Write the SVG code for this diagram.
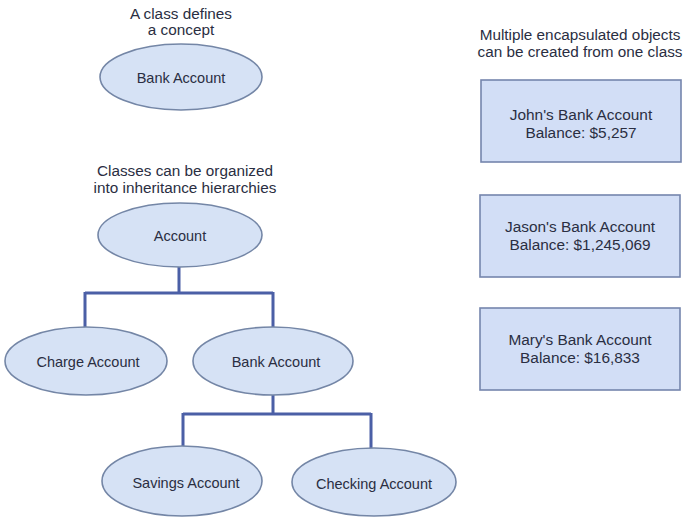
<svg xmlns="http://www.w3.org/2000/svg" width="692" height="526" viewBox="0 0 692 526">
<defs>
<style>
text{font-family:"Liberation Sans",Arial,sans-serif;font-size:14.5px;fill:#2a2e42;text-anchor:middle}
.cap{font-size:15.3px}
.bx{font-size:15.4px}
.ell{fill:#d6e2f5;stroke:#7486a6;stroke-width:1.6}
.box{fill:#d2def6;stroke:#7585ad;stroke-width:1.6}
.conn{fill:none;stroke:#4b5fa6;stroke-width:3}
</style>
</defs>
<rect width="692" height="526" fill="#ffffff"/>
<g id="captions">
<text class="cap" x="181" y="19">A class defines</text>
<text class="cap" x="181" y="35">a concept</text>
<text class="cap" x="185" y="176">Classes can be organized</text>
<text class="cap" x="185" y="193">into inheritance hierarchies</text>
<text class="cap" x="580" y="40">Multiple encapsulated objects</text>
<text class="cap" x="580" y="57">can be created from one class</text>
</g>
<g id="connectors">
<path class="conn" d="M179 267 V293 M85 293 H273 M85 292 V331 M273 292 V329"/>
<path class="conn" d="M273 394 V414 M183 414 H371 M183 413 V449 M371 413 V450"/>
</g>
<g id="node-bank-account-class">
<ellipse class="ell" cx="181" cy="77" rx="81" ry="33"/>
<text x="181" y="83">Bank Account</text>
</g>
<g id="node-account">
<ellipse class="ell" cx="180" cy="235" rx="82" ry="32"/>
<text x="180" y="241">Account</text>
</g>
<g id="node-charge-account">
<ellipse class="ell" cx="86" cy="361" rx="81" ry="34"/>
<text x="88" y="367">Charge Account</text>
</g>
<g id="node-bank-account">
<ellipse class="ell" cx="273" cy="361" rx="80" ry="34"/>
<text x="276" y="367">Bank Account</text>
</g>
<g id="node-savings-account">
<ellipse class="ell" cx="182" cy="481" rx="80" ry="35"/>
<text x="186" y="488">Savings Account</text>
</g>
<g id="node-checking-account">
<ellipse class="ell" cx="374" cy="482" rx="82" ry="34"/>
<text x="374" y="489">Checking Account</text>
</g>
<g id="node-john">
<rect class="box" x="481" y="80" width="200" height="82"/>
<text class="bx" x="581" y="120">John's Bank Account</text>
<text class="bx" x="581" y="138">Balance: $5,257</text>
</g>
<g id="node-jason">
<rect class="box" x="480" y="195" width="200" height="82"/>
<text class="bx" x="580" y="232">Jason's Bank Account</text>
<text class="bx" x="580" y="250">Balance: $1,245,069</text>
</g>
<g id="node-mary">
<rect class="box" x="480" y="308" width="200" height="82"/>
<text class="bx" x="580" y="345">Mary's Bank Account</text>
<text class="bx" x="580" y="363">Balance: $16,833</text>
</g>
</svg>
